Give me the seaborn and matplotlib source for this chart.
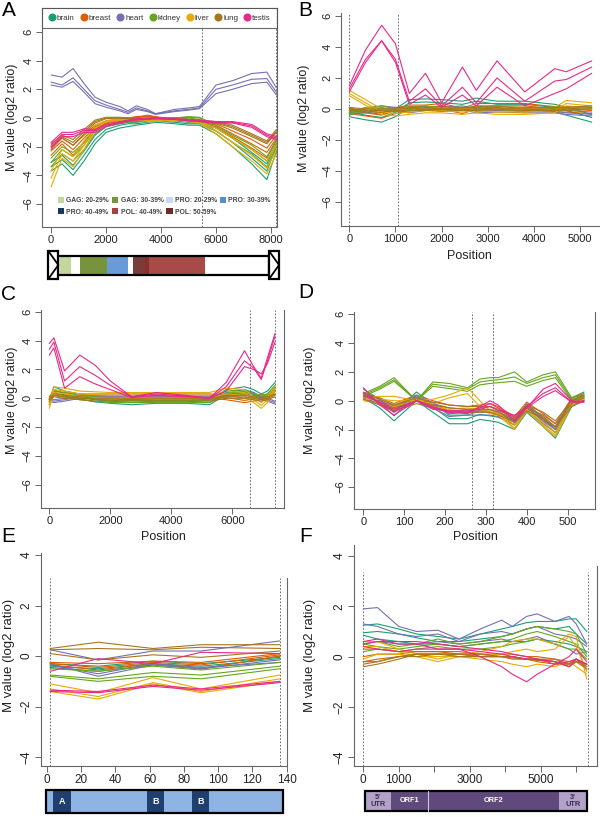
import pandas as pd
import matplotlib
matplotlib.use('Agg')
import matplotlib.pyplot as plt
import seaborn as sns
from matplotlib.patches import Rectangle, Polygon, Patch
from matplotlib.lines import Line2D

sns.set_style('white')
plt.rcParams['font.family'] = ['Liberation Sans', 'DejaVu Sans']

# tissues and colours (Dark2)
tissues = ['brain', 'breast', 'heart', 'kidney', 'liver', 'lung', 'testis']
tissue_colors = ['#1B9E77', '#D95F02', '#7570B3', '#66A61E', '#E6AB02', '#A6761D', '#E7298A']
palette = dict(zip(tissues, tissue_colors))

# ---------------- panel A ----------------
a_pos = [0, 400, 800, 1200, 1600, 2000, 2500, 2800, 3100, 3500, 3800, 4500, 5000, 5400, 6000, 6600, 7300, 7850, 8200]
a_lines = {
    'brain': [[-3.7, -3.2, -4.0, -3.0, -1.8, -1.0, -0.7, -0.6, -0.5, -0.4, -0.3, -0.4, -0.5, -0.5, -1.1, -2.0, -3.2, -4.3, -2.3],
              [-3.4, -2.9, -3.6, -2.6, -1.5, -0.8, -0.5, -0.4, -0.4, -0.3, -0.2, -0.3, -0.4, -0.4, -0.9, -1.7, -2.8, -3.7, -2.0],
              [-3.1, -2.6, -3.3, -2.3, -1.2, -0.6, -0.4, -0.3, -0.3, -0.2, -0.15, -0.2, -0.3, -0.3, -0.7, -1.4, -2.4, -3.2, -1.8]],
    'breast': [[-2.6, -1.8, -2.6, -1.7, -0.8, -0.4, -0.2, -0.1, 0.0, 0.2, 0.1, -0.1, -0.2, -0.3, -0.6, -1.3, -2.1, -2.8, -1.6],
               [-2.3, -1.6, -2.2, -1.4, -0.6, -0.3, -0.1, 0.0, 0.1, 0.15, 0.05, -0.05, -0.15, -0.25, -0.5, -1.1, -1.8, -2.4, -1.4],
               [-2.0, -1.4, -1.9, -1.2, -0.5, -0.2, -0.05, 0.0, 0.05, 0.1, 0.0, 0.0, -0.1, -0.2, -0.4, -0.9, -1.5, -2.1, -1.2]],
    'heart': [[3.0, 2.85, 3.45, 2.4, 1.45, 1.1, 0.8, 0.5, 0.85, 0.6, 0.3, 0.6, 0.7, 0.8, 2.3, 2.6, 3.1, 3.2, 2.1],
              [2.5, 2.3, 2.8, 2.0, 1.2, 0.9, 0.6, 0.4, 0.7, 0.5, 0.3, 0.5, 0.6, 0.7, 2.0, 2.3, 2.7, 2.75, 1.8],
              [2.3, 2.15, 2.55, 1.8, 1.0, 0.75, 0.5, 0.3, 0.6, 0.45, 0.25, 0.45, 0.55, 0.65, 1.7, 2.0, 2.4, 2.5, 1.6]],
    'kidney': [[-3.4, -2.5, -3.0, -2.2, -1.1, -0.6, -0.35, -0.3, -0.25, -0.2, -0.1, -0.1, 0.0, -0.1, -0.9, -1.7, -2.5, -3.4, -2.0],
               [-3.1, -2.2, -2.7, -1.9, -0.9, -0.5, -0.3, -0.2, -0.2, -0.1, -0.05, 0.0, 0.05, 0.0, -0.7, -1.4, -2.2, -3.0, -1.8],
               [-2.8, -2.0, -2.4, -1.7, -0.7, -0.35, -0.2, -0.15, -0.1, -0.05, 0.0, 0.0, 0.1, 0.05, -0.5, -1.2, -1.9, -2.7, -1.5]],
    'liver': [[-4.8, -2.8, -3.4, -2.2, -0.9, -0.4, -0.2, -0.1, -0.15, -0.25, -0.25, -0.15, -0.25, -0.35, -1.1, -2.0, -3.0, -3.9, -2.5],
              [-4.2, -2.5, -3.0, -1.9, -0.7, -0.3, -0.1, 0.0, -0.1, -0.2, -0.2, -0.1, -0.2, -0.3, -0.9, -1.7, -2.6, -3.5, -2.2],
              [-3.7, -2.2, -2.7, -1.6, -0.5, -0.2, -0.05, 0.0, -0.05, -0.15, -0.15, -0.05, -0.15, -0.25, -0.7, -1.4, -2.2, -3.0, -1.9]],
    'lung': [[-2.2, -1.4, -1.9, -1.1, -0.35, -0.05, 0.0, -0.05, -0.1, -0.1, -0.05, -0.1, -0.2, -0.25, -0.35, -0.7, -1.3, -1.8, -1.0],
             [-2.0, -1.3, -1.7, -0.95, -0.25, 0.0, 0.0, 0.0, -0.05, -0.05, 0.0, -0.05, -0.15, -0.2, -0.3, -0.6, -1.2, -1.7, -0.9],
             [-1.8, -1.2, -1.5, -0.8, -0.15, 0.05, 0.05, 0.0, 0.0, 0.0, 0.0, 0.0, -0.1, -0.15, -0.25, -0.5, -1.1, -1.6, -0.8]],
    'testis': [[-2.1, -1.3, -1.3, -1.0, -1.0, -0.6, -0.35, -0.25, -0.15, -0.1, -0.05, -0.1, -0.2, -0.25, -0.35, -0.35, -0.65, -1.3, -1.5],
               [-1.9, -1.15, -1.15, -0.85, -0.9, -0.5, -0.3, -0.2, -0.1, -0.05, 0.0, -0.1, -0.15, -0.2, -0.3, -0.3, -0.55, -1.2, -1.4],
               [-1.7, -1.0, -1.0, -0.75, -0.8, -0.4, -0.25, -0.15, -0.05, 0.0, 0.0, -0.05, -0.1, -0.15, -0.25, -0.25, -0.45, -1.1, -1.3]],
}
a_marks = [5490, 8200]

# genome map of panel A
seg_labels = ['GAG: 20-29%', 'GAG: 30-39%', 'PRO: 20-29%', 'PRO: 30-39%', 'PRO: 40-49%', 'POL: 40-49%', 'POL: 50-59%']
seg_colors = ['#c3d69b', '#77933c', '#c6d9f1', '#558ed5', '#17375e', '#a5423f', '#6b2a29']
a_bar_start = [325, 1050, 2033, 2970, 3420, 3565]
a_bar_end = [725, 2033, 2810, 3420, 3565, 5600]
a_bar_colors = ['#c3d69b', '#77933c', '#6a9ad8', '#7a3b3b', '#8a2e2e', '#a84a47']

# ---------------- panel B ----------------
b_pos = [0, 350, 700, 1000, 1300, 1650, 2000, 2450, 2750, 3200, 3800, 4450, 4700, 5250]
b_testis = [
    [1.5, 3.8, 5.4, 4.2, 1.0, 2.3, 0.4, 2.7, 1.2, 3.1, 1.1, 2.6, 2.4, 3.1],
    [1.3, 3.2, 4.4, 3.2, 0.5, 1.3, 0.2, 1.4, 0.4, 2.0, 0.5, 1.8, 1.9, 2.7],
    [1.1, 3.0, 4.4, 3.0, 0.3, 0.9, 0.1, 0.9, 0.2, 1.4, 0.2, 1.0, 1.3, 2.3],
]
b_base = {
    'brain':  [-0.5, -0.7, -0.85, -0.5, 0.1, 0.15, 0.1, 0.0, 0.2, 0.0, 0.0, -0.2, -0.4, -0.85],
    'breast': [-0.3, -0.45, -0.6, -0.3, -0.1, -0.1, 0.0, -0.3, 0.0, 0.0, 0.0, -0.2, -0.2, -0.3],
    'heart':  [-0.1, 0.0, 0.2, 0.1, 0.0, 0.15, 0.1, 0.2, 0.0, 0.05, 0.0, 0.0, -0.1, -0.2],
    'kidney': [-0.2, 0.1, 0.2, 0.0, 0.1, 0.2, 0.05, 0.1, 0.1, 0.2, 0.0, 0.15, 0.1, 0.2],
    'liver':  [1.2, 0.6, 0.0, -0.1, 0.0, 0.1, 0.1, 0.0, 0.1, 0.0, 0.0, 0.1, 0.55, 0.4],
    'lung':   [0.0, -0.1, -0.1, 0.0, 0.05, 0.0, 0.05, 0.0, 0.0, 0.05, 0.0, 0.0, 0.0, 0.1],
}
b_spread = {'brain': [0, 0.3, 0.5], 'breast': [0, 0.2, 0.35], 'heart': [0, -0.15, -0.25],
            'kidney': [0, -0.1, -0.2], 'liver': [0, -0.2, -0.35], 'lung': [0, 0.1, -0.1]}
b_marks = [0, 1050]

# ---------------- panel C ----------------
c_pos = [0, 150, 500, 1000, 1500, 2000, 2700, 3500, 4500, 5250, 5800, 6400, 6700, 6950, 7150, 7400]
c_testis = [
    [3.8, 4.2, 1.9, 3.0, 2.3, 1.2, 0.1, 0.4, 0.2, 0.0, 1.1, 3.3, 2.2, 1.4, 2.8, 4.5],
    [3.4, 3.9, 1.2, 2.2, 1.6, 0.9, 0.1, 0.3, 0.15, 0.0, 0.8, 2.6, 2.1, 1.3, 2.6, 4.3],
    [3.0, 3.5, 0.7, 1.5, 1.0, 0.6, 0.05, 0.2, 0.1, 0.0, 0.5, 2.2, 2.0, 1.7, 2.4, 3.9],
]
c_base = {
    'brain':  [-0.1, 0.8, 0.5, 0.3, 0.1, 0.0, -0.1, 0.0, 0.0, -0.1, 0.6, 0.8, 0.6, 0.3, 0.5, 1.1],
    'breast': [-0.2, 0.2, 0.1, 0.0, 0.0, 0.0, 0.0, 0.0, 0.0, 0.0, -0.1, -0.3, -0.2, 0.0, -0.1, 0.3],
    'heart':  [-0.2, -0.3, -0.2, 0.0, 0.0, 0.0, 0.0, 0.0, 0.0, 0.0, 0.1, 0.3, 0.2, -0.1, -0.2, -0.4],
    'kidney': [-0.1, 0.5, 0.4, 0.2, 0.1, 0.0, 0.0, 0.0, 0.0, 0.0, 0.5, 0.6, 0.3, 0.2, 0.3, 0.8],
    'liver':  [-0.7, 0.4, 0.3, 0.1, 0.05, 0.0, 0.0, 0.0, 0.0, 0.0, 0.3, 0.2, -0.3, -0.7, -0.3, 0.5],
    'lung':   [0.0, 0.3, 0.2, 0.1, 0.0, 0.0, 0.0, 0.0, 0.0, 0.0, 0.2, 0.2, 0.1, 0.0, 0.1, 0.3],
}
c_spread = {'brain': [0, -0.2, -0.35], 'breast': [0, 0.15, 0.3], 'heart': [0, 0.1, 0.2],
            'kidney': [0, -0.15, -0.3], 'liver': [0, 0.2, 0.4], 'lung': [0, -0.1, -0.2]}
c_marks = [6580, 7400]

# ---------------- panel D ----------------
d_pos = [0, 40, 75, 130, 170, 210, 255, 285, 310, 330, 370, 400, 440, 470, 510, 540]
d_kidney = [
    [0.5, 1.0, 1.6, 0.0, 1.3, 1.2, 0.9, 1.5, 1.6, 1.6, 2.0, 1.3, 1.8, 2.0, 0.2, 0.4],
    [0.4, 0.9, 1.45, 0.0, 1.15, 1.0, 0.8, 1.3, 1.4, 1.45, 1.65, 1.2, 1.6, 1.8, 0.1, 0.3],
    [0.3, 0.8, 1.35, 0.0, 1.0, 0.85, 0.65, 1.1, 1.2, 1.25, 1.35, 1.0, 1.4, 1.6, 0.0, 0.2],
]
d_liver = [
    [0.2, 0.3, 0.3, 0.0, 0.1, 0.4, 0.9, 0.0, -0.7, -0.8, -1.7, -0.6, -1.8, -2.5, -0.3, 0.2],
    [0.1, 0.1, 0.0, 0.0, -0.2, 0.2, 0.5, -0.4, -0.8, -0.9, -1.9, -0.7, -1.7, -2.4, -0.2, 0.1],
    [0.0, -0.2, -0.4, 0.0, -0.4, -0.6, -0.5, -0.6, -0.9, -1.0, -2.0, -0.6, -1.5, -2.2, -0.1, 0.1],
]
d_testis = [
    [0.9, -0.3, -1.0, 0.0, -0.4, -0.8, -0.9, -0.4, 0.0, -0.3, -1.4, -0.5, 0.8, 1.2, 0.0, -0.1],
    [0.6, -0.2, -0.8, 0.0, -0.5, -0.8, -0.8, -0.5, -0.2, -0.5, -1.2, -0.4, 0.5, 0.9, -0.1, -0.1],
    [0.4, -0.1, -0.6, 0.0, -0.6, -0.7, -0.7, -0.6, -0.4, -0.7, -1.0, -0.5, 0.3, 0.7, -0.1, 0.0],
]
d_base = {
    'brain':  [0.2, -0.5, -1.4, 0.0, -0.8, -1.6, -1.6, -1.3, -1.4, -1.5, -2.0, -0.8, -1.8, -2.6, -0.4, 0.0],
    'breast': [0.1, -0.2, -0.6, 0.0, -0.4, -0.7, -0.8, -0.7, -0.6, -0.8, -1.5, -0.5, -1.3, -2.0, -0.2, 0.1],
    'heart':  [0.2, -0.2, -0.7, 0.0, -0.5, -1.1, -1.0, -1.0, -1.0, -1.1, -1.7, -0.7, -1.6, -2.2, -0.3, 0.0],
    'lung':   [0.3, -0.1, -0.5, 0.0, -0.3, -0.5, -0.6, -0.6, -0.6, -0.8, -1.3, -0.5, -1.0, -1.6, -0.2, 0.2],
}
d_spread = {'brain': [0, 0.35, 0.6], 'breast': [0, 0.2, 0.4], 'heart': [0, 0.2, 0.35], 'lung': [0, 0.2, -0.2]}
d_marks = [266, 318]

# ---------------- panel E ----------------
e_pos = [2, 30, 62, 90, 136]
e_lines = {
    'brain':  [[-0.3, -0.4, -0.2, -0.3, -0.05], [-0.4, -0.5, -0.3, -0.4, -0.1], [-0.45, -0.6, -0.35, -0.5, 0.0]],
    'breast': [[-0.25, -0.3, -0.2, -0.25, 0.1], [-0.35, -0.55, -0.3, -0.5, 0.0], [-0.3, -0.45, -0.25, -0.35, 0.05]],
    'heart':  [[0.25, -0.15, 0.2, 0.2, 0.6], [-0.3, -0.8, -0.35, -0.5, -0.15], [-0.35, -0.7, -0.3, -0.45, -0.25]],
    'kidney': [[-0.5, -0.6, -0.4, -0.55, -0.25], [-0.75, -0.9, -0.65, -0.75, -0.4], [-0.8, -1.0, -0.8, -0.9, -0.5]],
    'liver':  [[-1.1, -1.45, -0.85, -1.3, -0.75], [-1.3, -1.6, -1.05, -1.4, -0.9], [-1.4, -1.7, -1.1, -1.45, -1.0]],
    'lung':   [[0.3, 0.55, 0.3, 0.45, 0.45], [0.25, 0.3, 0.25, 0.35, 0.3], [0.1, -0.15, 0.05, -0.05, 0.2]],
    'testis': [[-1.35, -1.4, -1.15, -1.3, -1.0], [-1.4, -1.45, -1.2, -1.35, -1.05], [-0.6, -0.1, -0.3, 0.15, 0.1]],
}
e_marks = [2, 136]
e_bar_start = [3.9, 58.5, 84.8]
e_bar_end = [14.0, 68.6, 94.9]
e_bar_labels = ['A', 'B', 'B']

# ---------------- panel F ----------------
f_pos = [0, 400, 1000, 1500, 2100, 2700, 3300, 3900, 4200, 4600, 4900, 5400, 5800, 6000, 6300]
f_lines = {
    'brain': [[1.25, 1.3, 1.1, 0.9, 0.8, 0.7, 0.9, 1.1, 1.2, 1.35, 1.4, 1.4, 1.5, 1.5, 1.0],
              [0.95, 1.0, 0.9, 0.75, 0.6, 0.6, 0.7, 0.8, 0.9, 1.1, 1.2, 1.1, 1.2, 0.9, 0.5],
              [0.85, 0.7, 0.6, 0.5, 0.5, 0.4, 0.5, 0.6, 0.6, 0.6, 0.7, 0.6, 0.5, 0.4, 0.2]],
    'breast': [[0.0, 0.1, 0.1, 0.2, 0.2, 0.1, 0.1, 0.0, 0.0, -0.1, -0.1, -0.2, -0.4, -0.2, -0.3],
               [-0.2, -0.1, 0.0, 0.1, 0.1, 0.1, 0.0, 0.0, -0.1, -0.1, -0.2, -0.3, -0.3, -0.2, -0.5],
               [0.3, 0.3, 0.2, 0.2, 0.2, 0.2, 0.1, 0.1, 0.1, 0.0, 0.0, -0.1, -0.2, -0.1, -0.4]],
    'heart': [[1.9, 1.95, 1.2, 1.0, 1.05, 0.7, 1.1, 1.45, 1.2, 1.6, 1.7, 1.4, 1.6, 1.3, 0.5],
              [1.3, 1.2, 0.9, 0.8, 0.9, 0.6, 0.9, 1.0, 0.9, 1.1, 1.2, 0.9, 0.8, 0.7, 0.4],
              [0.5, 0.6, 0.5, 0.5, 0.6, 0.5, 0.6, 0.7, 0.6, 0.7, 0.8, 0.5, 0.3, 0.1, 0.2]],
    'kidney': [[0.6, 0.6, 0.4, 0.5, 0.7, 0.5, 0.6, 0.8, 0.9, 1.1, 1.2, 1.1, 1.0, 0.9, 0.1],
               [0.5, 0.4, 0.3, 0.4, 0.5, 0.4, 0.5, 0.6, 0.7, 0.9, 1.0, 0.8, 0.6, 0.5, 0.0],
               [0.2, 0.3, 0.2, 0.3, 0.4, 0.3, 0.3, 0.4, 0.5, 0.6, 0.7, 0.5, 0.3, 0.3, -0.1]],
    'liver': [[0.6, 0.6, 0.3, 0.1, -0.1, 0.1, 0.2, 0.4, 0.6, 0.7, 0.7, 0.5, 0.9, 0.8, -0.9],
              [0.4, 0.4, 0.2, 0.0, -0.2, 0.0, 0.0, 0.1, 0.2, 0.3, 0.2, 0.3, 0.8, 0.4, -0.6],
              [-0.1, 0.1, 0.1, 0.0, 0.0, 0.0, -0.1, -0.2, -0.3, -0.4, -0.3, -0.4, -0.2, -0.4, -0.7]],
    'lung': [[-0.4, -0.3, -0.1, 0.1, 0.1, 0.1, 0.0, 0.0, 0.0, -0.1, -0.1, -0.2, -0.3, -0.1, -0.4],
             [-0.3, -0.2, 0.0, 0.1, 0.1, 0.1, 0.1, 0.0, -0.05, -0.1, -0.15, -0.2, -0.4, -0.2, -0.3],
             [-0.2, -0.2, 0.0, 0.0, 0.1, 0.0, 0.0, 0.0, 0.0, -0.1, -0.1, -0.1, -0.3, -0.1, -0.5]],
    'testis': [[0.6, 0.7, 0.5, 0.5, 0.3, 0.3, 0.0, -0.4, -0.7, -1.0, -0.7, -0.3, 0.0, 0.3, -0.2],
               [0.5, 0.6, 0.6, 0.6, 0.5, 0.4, 0.3, 0.2, 0.1, 0.0, -0.1, -0.3, -0.2, -0.1, -0.3],
               [0.4, 0.3, 0.2, 0.3, 0.3, 0.3, 0.2, 0.1, 0.0, -0.1, -0.1, -0.2, -0.4, -0.1, -0.3]],
}
f_marks = [0, 6320]
f_bar_start = [48, 772, 1832, 5524]
f_bar_end = [772, 1832, 5524, 6296]
f_bar_labels = ["5'\nUTR", 'ORF1', 'ORF2', "3'\nUTR"]
f_bar_colors = ['#b3a2c7', '#604a7b', '#604a7b', '#b3a2c7']
f_bar_text = ['#3b2a50', 'white', 'white', '#3b2a50']


def with_spread(base, spread):
    return {t: [[v + s for v in base[t]] for s in spread[t]] for t in base}


def panel_frame(pos, curves):
    rows = []
    for t in tissues:
        for k, line in enumerate(curves.get(t, [])):
            for x, y in zip(pos, line):
                rows.append((x, y, t, f'{t}{k}'))
    return pd.DataFrame(rows, columns=['pos', 'm', 'tissue', 'line'])


W, H = 600, 817
fig = plt.figure(figsize=(W / 100, H / 100), dpi=100)


def add_axes(l, t, r, b):
    return fig.add_axes([l / W, 1 - b / H, (r - l) / W, (b - t) / H])


def draw_panel(ax, pos, curves, xlim, ylim, xticks, yticks, marks, mark_top=1.0, box=False,
               right=True, tsize=8):
    df = panel_frame(pos, curves)
    sns.lineplot(data=df, x='pos', y='m', hue='tissue', units='line', estimator=None,
                 hue_order=tissues, palette=palette, lw=0.8, legend=False, sort=False, ax=ax)
    for m in marks:
        ax.axvline(m, ymin=0, ymax=mark_top, color='#555555', lw=0.6, ls=(0, (2, 2)), zorder=1)
    ax.set_xlim(xlim)
    ax.set_ylim(ylim)
    ax.set_xticks(xticks)
    ax.set_yticks(yticks)
    ax.set_xlabel('')
    ax.set_ylabel('')
    for s in ax.spines.values():
        s.set_color('#666666')
        s.set_linewidth(0.8)
    ax.spines['top'].set_visible(box)
    ax.spines['right'].set_visible(right)
    ax.tick_params(direction='out', length=4, width=0.7, color='#666666', labelsize=tsize,
                   pad=2, bottom=True, left=True, labelcolor='#222222')
    ax.tick_params(axis='y', labelrotation=90)
    for lab in ax.get_yticklabels():
        lab.set_va('center')


def side_text(x, y, s, rot=90, size=9):
    fig.text(x / W, 1 - y / H, s, rotation=rot, ha='center', va='center', fontsize=size, color='#222222')


# ---- A ----
axA = add_axes(42, 8, 277, 227)
draw_panel(axA, a_pos, a_lines, (-330, 8220), (-7.6, 7.67), [0, 2000, 4000, 6000, 8000],
           [-6, -4, -2, 0, 2, 4, 6], a_marks, box=True)
leg1 = axA.legend([Line2D([], [], marker='o', ls='', color=c, markersize=4.8) for c in tissue_colors],
                  tissues, loc='upper left', bbox_to_anchor=(0, 1, 1, 0), mode='expand', ncol=7,
                  fontsize=5.8, frameon=True, fancybox=False, edgecolor='#444444', borderaxespad=0,
                  handletextpad=0.1, columnspacing=0.3, borderpad=0.75, handlelength=1.0)
leg1.get_frame().set_linewidth(0.8)
for t in leg1.get_texts():
    t.set_color('#333333')
axA.add_artist(leg1)
order = [0, 4, 1, 5, 2, 6, 3]
leg2 = axA.legend([Patch(facecolor=seg_colors[i], edgecolor='none') for i in order],
                  [seg_labels[i] for i in order], loc='lower left', bbox_to_anchor=(0.055, 0.04, 0.93, 0.14),
                  mode='expand', ncol=4, frameon=False, prop={'size': 4.9, 'weight': 'bold'},
                  handlelength=1.0, handleheight=1.0, handletextpad=0.3, columnspacing=0.4,
                  labelspacing=0.55, borderaxespad=0)
for t in leg2.get_texts():
    t.set_color('#444444')

barA = add_axes(42, 249, 290, 281)
barA.set_xlim(-330, 8691)
barA.set_ylim(281, 249)
barA.axis('off')
barA.add_patch(Rectangle((263, 256), 7930 - 263, 19, facecolor='white', edgecolor='none'))
for s0, s1, c in zip(a_bar_start, a_bar_end, a_bar_colors):
    barA.add_patch(Rectangle((s0, 256.8), s1 - s0, 17.4, facecolor=c, edgecolor='none'))
barA.add_patch(Rectangle((263, 256), 7930 - 263, 19, facecolor='none', edgecolor='black', lw=1.6))
for x0, x1 in [(-101, 263), (7930, 8291)]:
    barA.add_patch(Rectangle((x0, 251), x1 - x0, 28, facecolor='white', edgecolor='black', lw=1.6))
    barA.add_patch(Polygon([(x0, 251), (x1, 265), (x0, 279)], closed=False, fill=False,
                           edgecolor='black', lw=1.3))
side_text(12, 117, 'M value (log2 ratio)')

# ---- B ----
axB = add_axes(341, 13, 600, 226)
curvesB = with_spread(b_base, b_spread)
curvesB['testis'] = b_testis
draw_panel(axB, b_pos, curvesB, (-180, 5430), (-7.55, 6.19), [0, 1000, 2000, 3000, 4000, 5000],
           [-6, -4, -2, 0, 2, 4, 6], b_marks, right=False)
side_text(304, 118, 'M value (log2 ratio)')
side_text(469, 256, 'Position', rot=0)

# ---- C ----
axC = add_axes(41, 310, 284, 508)
curvesC = with_spread(c_base, c_spread)
curvesC['testis'] = c_testis
draw_panel(axC, c_pos, curvesC, (-272, 7695), (-7.62, 6.13), [0, 2000, 4000, 6000],
           [-6, -4, -2, 0, 2, 4, 6], c_marks)
side_text(12, 400, 'M value (log2 ratio)')
side_text(163, 537, 'Position', rot=0)

# ---- D ----
axD = add_axes(354, 312, 595, 509)
curvesD = with_spread(d_base, d_spread)
curvesD['kidney'] = d_kidney
curvesD['liver'] = d_liver
curvesD['testis'] = d_testis
draw_panel(axD, d_pos, curvesD, (-23, 567), (-7.52, 6.16), [0, 100, 200, 300, 400, 500],
           [-6, -4, -2, 0, 2, 4, 6], d_marks)
side_text(310, 400, 'M value (log2 ratio)')
side_text(475, 537, 'Position', rot=0)

# ---- E ----
axE = add_axes(40.7, 553, 286.7, 766)
draw_panel(axE, e_pos, e_lines, (-3.5, 140), (-4.35, 4.08), [0, 20, 40, 60, 80, 100, 120, 140],
           [-4, -2, 0, 2, 4], e_marks, mark_top=0.884, tsize=8.5)
axE.spines['right'].set_bounds(-4.35, 3.1)
side_text(9, 655, 'M value (log2 ratio)', size=9.5)

barE = add_axes(40.7, 786, 286.7, 816)
barE.set_xlim(-3.5, 140)
barE.set_ylim(816, 786)
barE.axis('off')
barE.add_patch(Rectangle((-0.4, 789.5), 138.1, 23, facecolor='#8eb4e3', edgecolor='none'))
for s0, s1, lab in zip(e_bar_start, e_bar_end, e_bar_labels):
    barE.add_patch(Rectangle((s0, 789.5), s1 - s0, 23, facecolor='#1f3f6e', edgecolor='none'))
    barE.text((s0 + s1) / 2, 801, lab, color='white', ha='center', va='center', fontsize=6.5, fontweight='bold')
barE.add_patch(Rectangle((-0.4, 789.5), 138.1, 23, facecolor='none', edgecolor='black', lw=1.6))

# ---- F ----
axF = add_axes(354, 545, 596.7, 766)
draw_panel(axF, f_pos, f_lines, (-262, 6578), (-4.35, 4.44), [0, 1000, 2000, 3000, 4000, 5000, 6000],
           [-4, -2, 0, 2, 4], f_marks, mark_top=0.88, tsize=8.5)
axF.set_xticklabels(['0', '1000', '', '3000', '', '5000', ''])
axF.spines['right'].set_bounds(-4.35, 3.6)
side_text(310, 655, 'M value (log2 ratio)', size=9.5)

barF = add_axes(354, 788, 596.7, 814)
barF.set_xlim(-262, 6578)
barF.set_ylim(814, 788)
barF.axis('off')
for s0, s1, lab, c, tc in zip(f_bar_start, f_bar_end, f_bar_labels, f_bar_colors, f_bar_text):
    barF.add_patch(Rectangle((s0, 791), s1 - s0, 20, facecolor=c, edgecolor='none'))
    barF.text((s0 + s1) / 2, 801, lab, color=tc, ha='center', va='center', fontsize=5.3,
              fontweight='bold', linespacing=0.95)
barF.plot([1832, 1832], [791, 811], color='#cfc6dc', lw=0.8)
barF.add_patch(Rectangle((48, 791), 6248, 20, facecolor='none', edgecolor='black', lw=1.6))

# panel letters
for lab, x, y in [('A', 9, 11), ('B', 305, 10), ('C', 8, 295), ('D', 306, 293), ('E', 8, 537), ('F', 306, 537)]:
    fig.text(x / W, 1 - y / H, lab, fontsize=15, ha='center', va='center', color='black')

fig.savefig('out.png', dpi=100)
